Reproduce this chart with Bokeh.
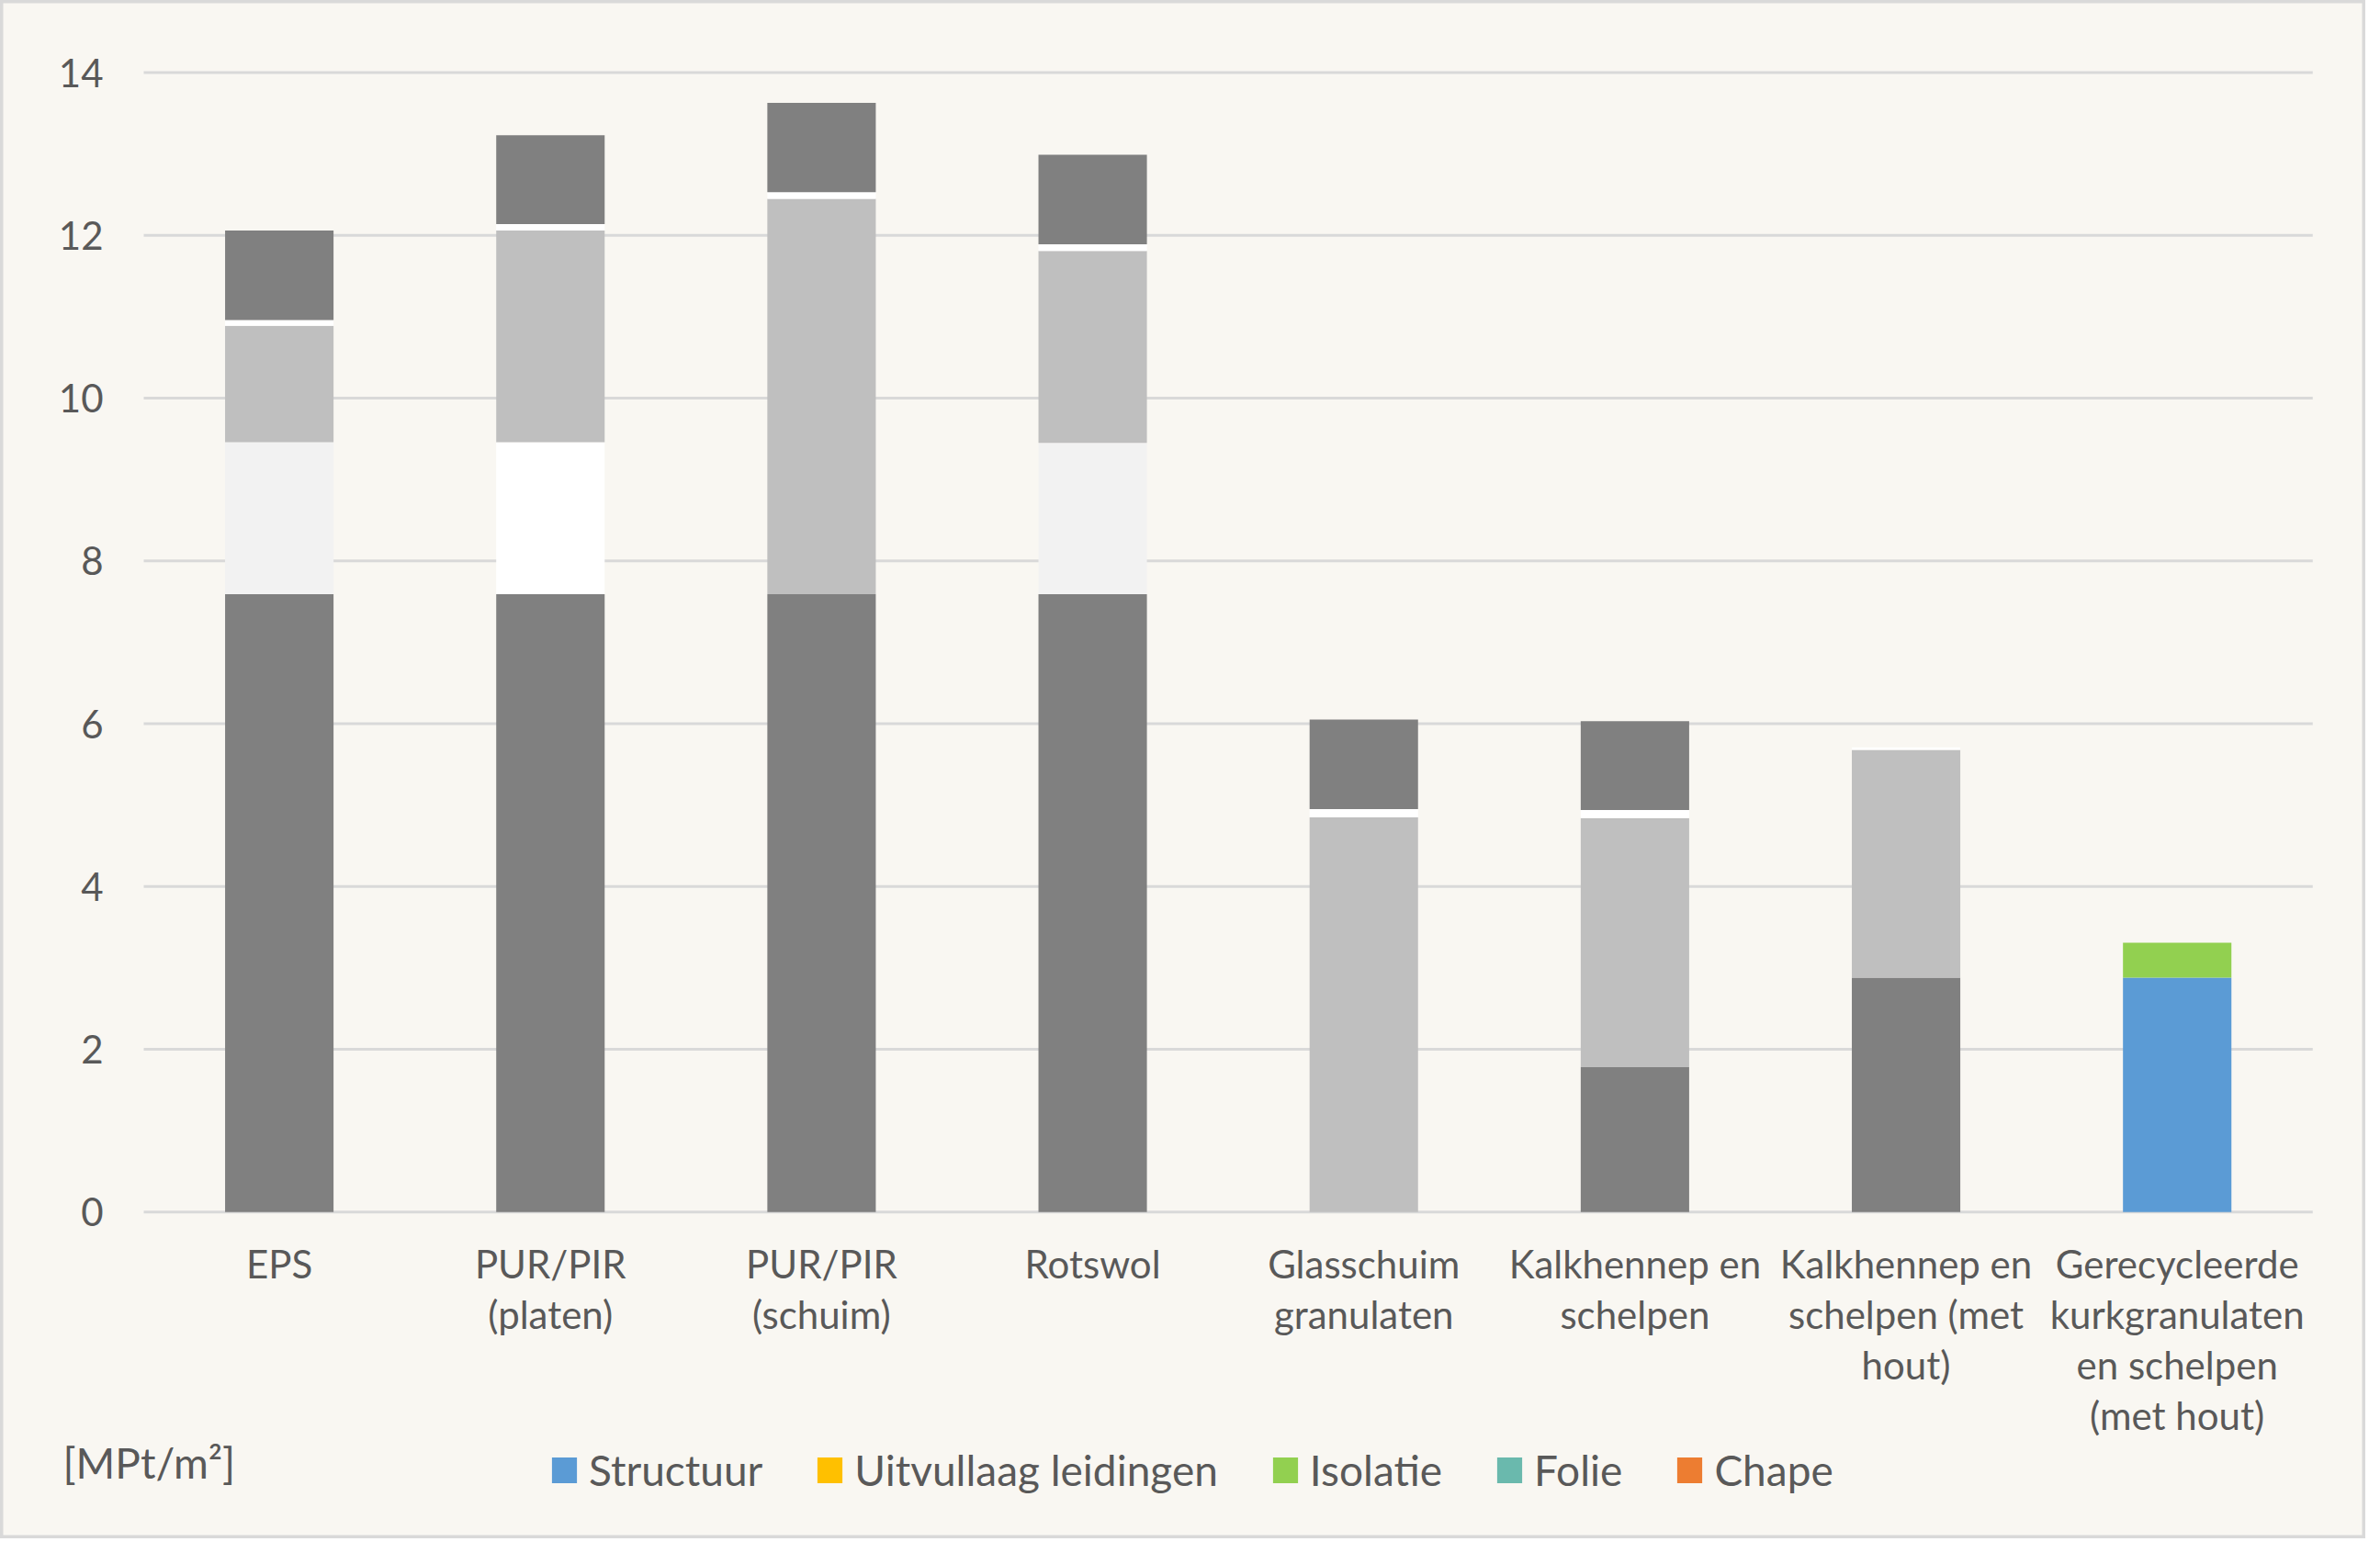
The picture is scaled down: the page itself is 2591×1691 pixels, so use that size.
import numpy as np
from bokeh.plotting import figure
from bokeh.models import (ColumnDataSource, Range1d, Legend, LegendItem, Label,
                          LinearAxis, FixedTicker)
from bokeh.embed import file_html
from bokeh.resources import INLINE

# categories (x-as), with line breaks as in the original chart
materials = ["EPS", "PUR/PIR\n(platen)", "PUR/PIR\n(schuim)", "Rotswol",
             "Glasschuim\ngranulaten", "Kalkhennep en\nschelpen",
             "Kalkhennep en\nschelpen (met\nhout)",
             "Gerecycleerde\nkurkgranulaten\nen schelpen\n(met hout)"]

# MPt/m2 per layer
structuur = [7.59, 7.59, 7.59, 7.59, 0.00, 1.78, 2.88, 2.88]
uitvullaag = [1.87, 1.87, 0.00, 1.86, 0.00, 0.00, 0.00, 0.00]
isolatie = [1.43, 2.60, 4.86, 2.36, 4.85, 3.06, 2.80, 0.43]
folie = [0.07, 0.08, 0.08, 0.08, 0.10, 0.10, 0.03, 0.00]
chape = [1.10, 1.09, 1.10, 1.10, 1.10, 1.09, 0.00, 0.00]

layers = ["Structuur", "Uitvullaag leidingen", "Isolatie", "Folie", "Chape"]
y_ticks = [0, 2, 4, 6, 8, 10, 12, 14]

# colours: only the last bar is coloured, the rest is greyed out
DARK = "#808080"
LIGHT = "#BFBFBF"
PALE = "#F2F2F2"
WHITE = "#FFFFFF"
legend_colors = ["#5B9BD5", "#FFC000", "#92D050", "#6AB9AD", "#ED7D31"]
bar_colors = [
    [DARK] * 7 + ["#5B9BD5"],
    [PALE, WHITE, PALE, PALE, PALE, PALE, PALE, PALE],
    [LIGHT] * 7 + ["#92D050"],
    [WHITE] * 8,
    [DARK] * 8,
]

BG = "#F9F7F2"
TXT = "#595959"
GRID = "#D9D9D9"
FONT = "Lato"

# one slot per material, bar in the middle of its slot
n = len(materials)
xs = [i + 0.5 for i in range(n)]

# the frame covers the whole canvas so legend and unit label are not clipped;
# the visible plot area is x 0..n, y 0..14
p = figure(x_range=Range1d(-0.5285, n + 0.1955), y_range=Range1d(-4.015, 14.887),
           width=2575, height=1675,
           output_backend="svg", toolbar_location=None,
           x_axis_location=None, y_axis_location=None,
           min_border=0)

p.background_fill_color = BG
p.border_fill_color = BG
p.outline_line_color = GRID
p.outline_line_width = 6
p.grid.visible = False

# horizontal gridlines only over the plot area
p.segment(x0=0, x1=n, y0=y_ticks, y1=y_ticks, line_color=GRID, line_width=3)

# stack the layers
values = np.array([structuur, uitvullaag, isolatie, folie, chape])
tops = np.cumsum(values, axis=0)
bottoms = tops - values
for i in range(len(layers)):
    src = ColumnDataSource(dict(x=xs, bottom=bottoms[i], top=tops[i],
                                color=bar_colors[i]))
    p.vbar(x="x", bottom="bottom", top="top", width=0.4, source=src,
           fill_color="color", line_color=None)

# legend uses the real layer colours (zero height bars, only for the legend)
items = []
for name, col in zip(layers, legend_colors):
    r = p.vbar(x=[xs[0]], bottom=[0], top=[0], width=0.4,
               fill_color=col, line_color=None)
    items.append(LegendItem(label=name, renderers=[r]))

legend = Legend(items=items, orientation="horizontal", location=(597, 47))
legend.glyph_width = 34
legend.glyph_height = 35
legend.label_standoff = 10
legend.spacing = 56
legend.padding = 0
legend.margin = 0
legend.background_fill_alpha = 0
legend.border_line_color = None
legend.label_text_font = FONT
legend.label_text_font_size = "46px"
legend.label_text_color = TXT
p.add_layout(legend, "center")

unit = Label(x=68, y=83, x_units="screen", y_units="screen",
             text="[MPt/m²]", text_font=FONT, text_font_size="46px",
             text_color=TXT, text_baseline="middle")
p.add_layout(unit)

# axes sit inside the frame at x=0 / y=0
xaxis = LinearAxis(fixed_location=0, ticker=FixedTicker(ticks=xs),
                   major_label_overrides={x: m for x, m in zip(xs, materials)})
yaxis = LinearAxis(fixed_location=0, ticker=FixedTicker(ticks=y_ticks))
for ax in (xaxis, yaxis):
    ax.axis_line_color = None
    ax.major_tick_line_color = None
    ax.minor_tick_line_color = None
    ax.major_tick_out = 0
    ax.major_tick_in = 0
    ax.minor_tick_out = 0
    ax.major_label_text_font = FONT
    ax.major_label_text_font_size = "42px"
    ax.major_label_text_color = TXT
xaxis.major_label_text_line_height = 1.1
xaxis.major_label_standoff = 31
yaxis.major_label_standoff = 44
p.add_layout(xaxis, "below")
p.add_layout(yaxis, "left")

open("out.html", "w").write(file_html(p, INLINE))
